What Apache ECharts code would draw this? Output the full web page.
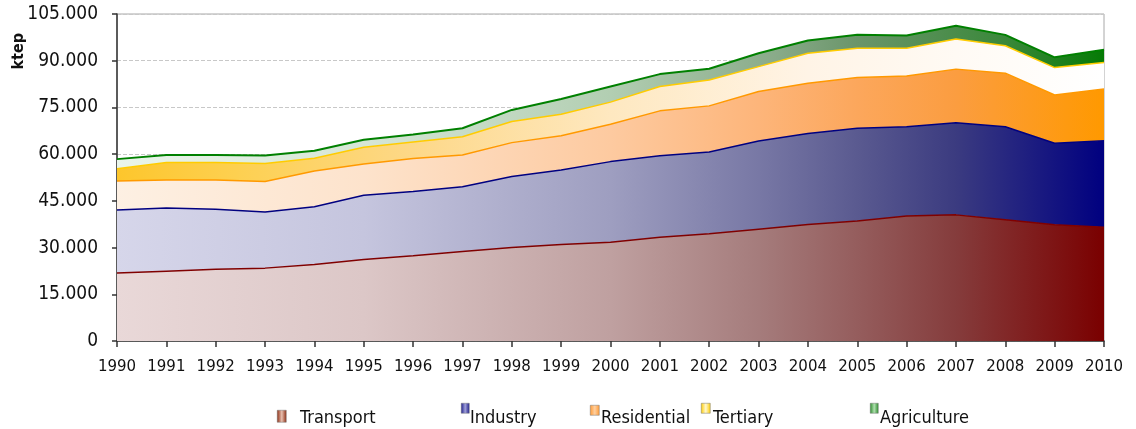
<!DOCTYPE html>
<html>
<head>
<meta charset="utf-8">
<script src="https://cdn.jsdelivr.net/npm/echarts@6/dist/echarts.min.js"></script>
<style>
html,body{margin:0;padding:0;background:#fff;}
#c{width:1136px;height:429px;}
</style>
</head>
<body>
<div id="c"></div>
<script>
var years = ['1990','1991','1992','1993','1994','1995','1996','1997','1998','1999','2000','2001','2002','2003','2004','2005','2006','2007','2008','2009','2010'];
var transport   = [21800,22400,23000,23400,24600,26200,27400,28700,30000,31000,31700,33300,34400,35900,37400,38500,40100,40500,38900,37300,36500];
var industry    = [20300,20300,19300,18000,18500,20600,20600,20800,22800,23900,25900,26200,26300,28300,29200,29800,28700,29600,29900,26200,27800];
var residential = [9300,9000,9400,9800,11500,10000,10600,10200,10900,11000,12000,14400,14800,15900,16200,16300,16300,17200,17200,15500,16600];
var tertiary    = [3900,5600,5600,5800,4100,5400,5300,5900,6800,6900,7100,7800,8300,8000,9600,9400,8900,9700,8800,8800,8500];
var agriculture = [3100,2400,2400,2600,2400,2400,2400,2700,3700,4900,5000,4000,3600,4300,4100,4300,4100,4200,3500,3300,4100];
var seriesNames = ['Transport','Industry','Residential','Tertiary','Agriculture'];

function hgrad(stops){
  return {type:'linear',x:0,y:0,x2:1,y2:0,colorStops:stops.map(function(s){return {offset:s[0],color:s[1]};})};
}
var fills = {
  Transport: hgrad([[0,'#e9d8d8'],[0.25,'#dcc7c7'],[0.5,'#bfa0a0'],[0.65,'#a57c7c'],[0.75,'#955d5d'],[0.85,'#853c3c'],[1,'#7a0000']]),
  Industry: hgrad([[0,'#d6d6ea'],[0.25,'#c5c5de'],[0.5,'#9e9ec0'],[0.65,'#7878a5'],[0.75,'#5a5a90'],[0.85,'#3b3b80'],[1,'#000080']]),
  Residential: hgrad([[0,'#fdf0e3'],[0.25,'#fde3cc'],[0.5,'#fdcaa0'],[0.65,'#fdb57a'],[0.75,'#fca75c'],[0.85,'#fb9d40'],[1,'#ff9900']]),
  Tertiary: hgrad([[0,'#fdc62c'],[0.12,'#fdd050'],[0.3,'#fdd888'],[0.5,'#fee8c0'],[0.7,'#fff4e6'],[0.85,'#fffaf4'],[1,'#ffffff']]),
  Agriculture: hgrad([[0,'#eaf5ea'],[0.25,'#d6e6d6'],[0.5,'#b2ceb2'],[0.67,'#88aa88'],[0.75,'#6a956a'],[0.9,'#3a883a'],[1,'#057a05']])
};
var lineColors = {Transport:'#800000',Industry:'#000080',Residential:'#ff9900',Tertiary:'#ffcc00',Agriculture:'#008000'};
var lineWidths = {Transport:1.5,Industry:1.5,Residential:1.5,Tertiary:1.5,Agriculture:2};
function iconGrad(edge,mid){
  return {type:'linear',x:0,y:0,x2:1,y2:0,colorStops:[{offset:0,color:edge},{offset:0.5,color:mid},{offset:1,color:edge}]};
}
var iconFills = {
  Transport: iconGrad('#8b2a10','#e8c0b0'),
  Industry: iconGrad('#1a1a8a','#a0a0d8'),
  Residential: iconGrad('#ff9933','#ffd0a0'),
  Tertiary: iconGrad('#ffcc00','#fff8d0'),
  Agriculture: iconGrad('#2a8a2a','#b0e0b0')
};
var dataMap = {Transport:transport,Industry:industry,Residential:residential,Tertiary:tertiary,Agriculture:agriculture};

var FONT = '"DejaVu Sans Condensed","DejaVu Sans",sans-serif';
var FONT2 = '"DejaVu Sans",sans-serif';

var series = seriesNames.map(function(n){
  return {
    name:n, type:'line', stack:'total', data:dataMap[n],
    showSymbol:false, symbol:'none',
    lineStyle:{color:lineColors[n],width:lineWidths[n]},
    itemStyle:{color:lineColors[n]},
    areaStyle:{color:fills[n],opacity:1},
    emphasis:{disabled:true}
  };
});

// legend text positions and icon boxes
var legendPos = [
  {name:'Transport',  left:290, icon:[277,410,9,12]},
  {name:'Industry',   left:460, icon:[461,403,8,10]},
  {name:'Residential',left:591, icon:[590,405,9,10]},
  {name:'Tertiary',   left:703, icon:[701,403,9,10]},
  {name:'Agriculture',left:870, icon:[870,403,8,10]}
];
var legends = legendPos.map(function(p){
  return {
    data:[{name:p.name,icon:'none'}],
    left:p.left, top:404, itemWidth:0, itemHeight:14, itemGap:0,
    selectedMode:false,
    textStyle:{fontFamily:FONT,fontSize:18,color:'#111'}
  };
});
var iconGraphics = legendPos.map(function(p){
  return {type:'rect',left:p.icon[0],top:p.icon[1],shape:{width:p.icon[2],height:p.icon[3]},
    style:{fill:iconFills[p.name],stroke:'#777',lineWidth:0.5}};
});

var chart = echarts.init(document.getElementById('c'),null,{renderer:'canvas'});
chart.setOption({
  animation:false,
  backgroundColor:'#ffffff',
  grid:{left:117,right:32,top:14,bottom:88,show:true,borderColor:'#a8a8a8',borderWidth:1,backgroundColor:'transparent'},
  legend:legends,
  xAxis:{
    type:'category', data:years, boundaryGap:false,
    axisLine:{show:true,lineStyle:{color:'#333',width:1.5}},
    axisTick:{show:true,inside:false,length:6,interval:0,lineStyle:{color:'#333',width:1.5}},
    axisLabel:{margin:19,interval:0,hideOverlap:false,fontFamily:FONT2,fontSize:15,color:'#111'},
    splitLine:{show:false}
  },
  yAxis:{
    type:'value', min:0, max:105000, interval:15000,
    axisLine:{show:true,lineStyle:{color:'#333',width:1.5}},
    axisTick:{show:true,length:5,lineStyle:{color:'#333',width:1.5}},
    axisLabel:{margin:19,fontFamily:FONT,fontSize:19,color:'#111',
      formatter:function(v){return v===0?'0':String(v).replace(/\B(?=(\d{3})+(?!\d))/g,'.');}},
    splitLine:{show:true,lineStyle:{color:'#c8c8c8',type:[4,2],width:1}}
  },
  graphic:[{
    type:'text', left:11, top:33, rotation:Math.PI/2,
    style:{text:'ktep',font:'bold 16px '+FONT,fill:'#111'}
  }].concat(iconGraphics),
  series:series
});
</script>
</body>
</html>
